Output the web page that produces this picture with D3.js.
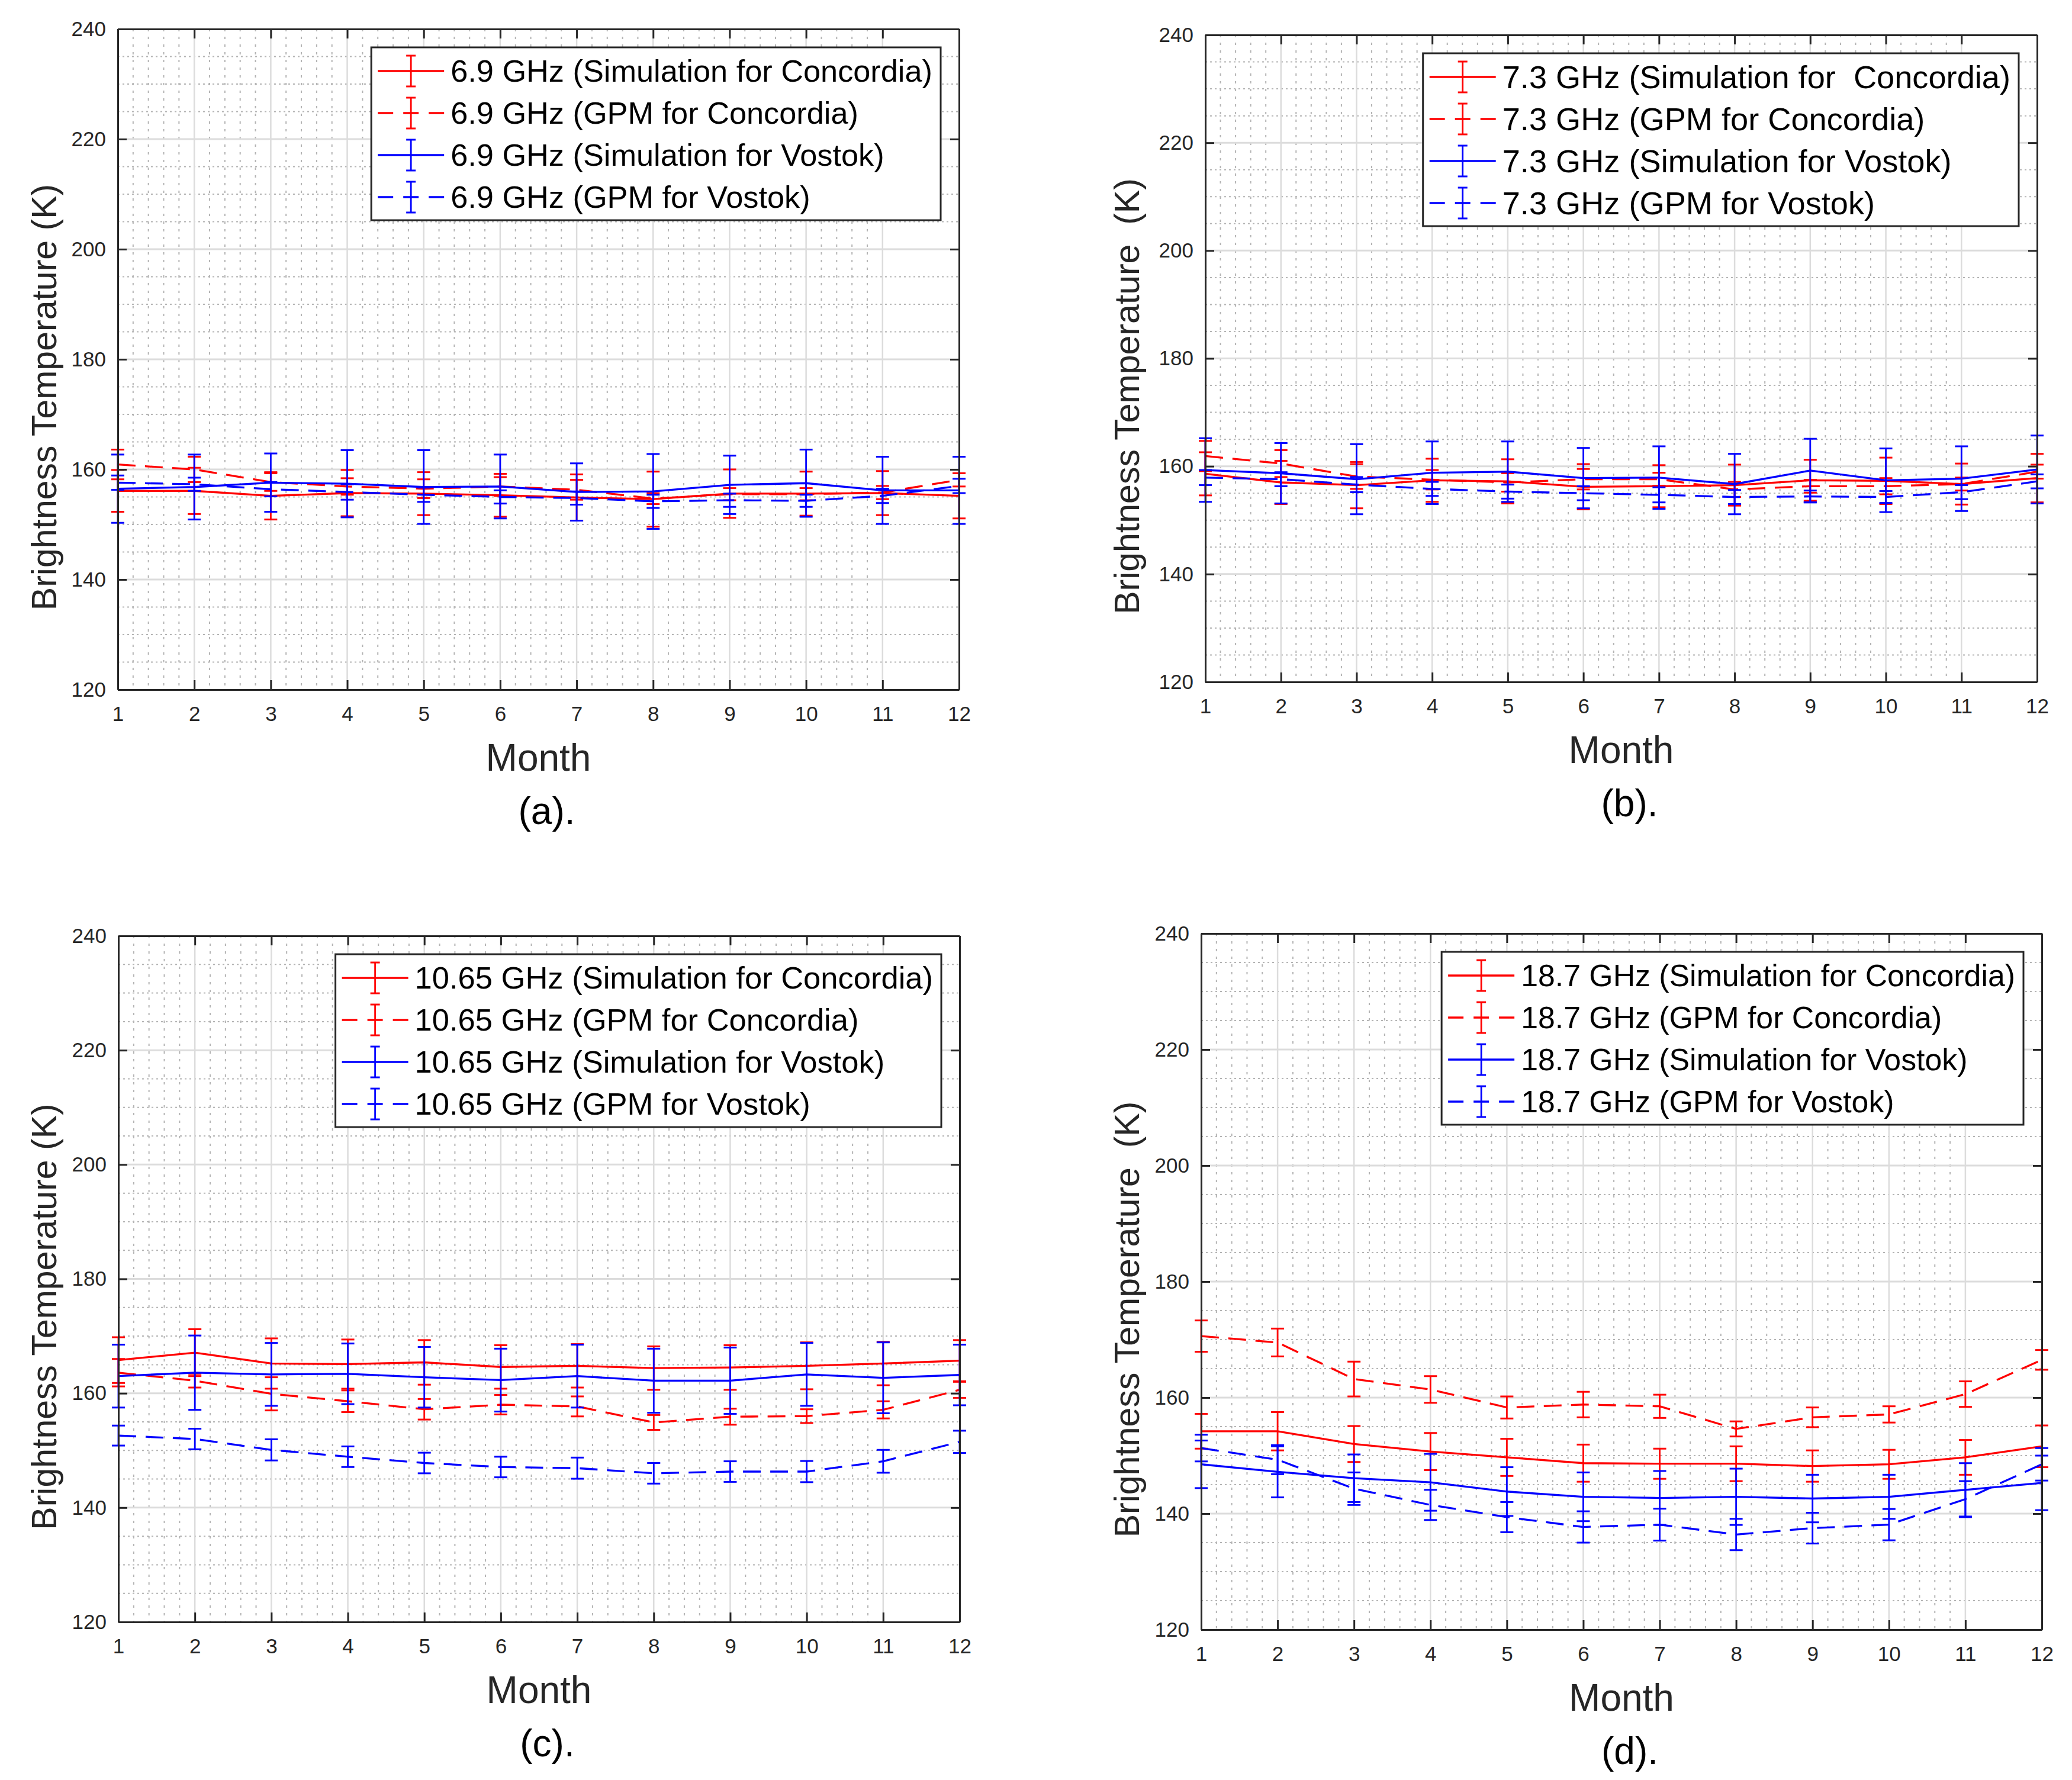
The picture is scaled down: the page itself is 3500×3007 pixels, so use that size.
<!DOCTYPE html>
<html>
<head>
<meta charset="utf-8">
<script src="https://cdn.jsdelivr.net/npm/d3@7"></script>
<style>
  body { margin: 0; background: #fff; }
  svg { display: block; }
  text { font-family: Arial, "Liberation Sans", sans-serif; }
</style>
</head>
<body>
<svg id="fig" width="3500" height="3007"></svg>
<script>
var months = [1, 2, 3, 4, 5, 6, 7, 8, 9, 10, 11, 12];
var tempTicks = [120, 140, 160, 180, 200, 220, 240];

// (a) 6.9 GHz
var sim69Con = [156.1, 156.1, 155.2, 155.7, 155.6, 155.3, 154.9, 154.6, 155.6, 155.6, 155.7, 155.2];
var sim69ConErr = [3.8, 4.2, 4.3, 4.2, 3.9, 3.9, 4.2, 5.0, 4.4, 4.0, 4.0, 4.1];
var gpm69Con = [160.9, 160.0, 157.7, 156.9, 156.5, 156.9, 156.3, 154.7, 155.5, 155.5, 155.8, 158.1];
var gpm69ConErr = [2.7, 2.3, 1.6, 1.5, 1.7, 1.7, 1.8, 1.0, 1.1, 1.1, 1.2, 1.2];
var sim69Vos = [156.5, 156.8, 157.6, 157.4, 156.8, 156.9, 155.9, 156.0, 157.2, 157.5, 156.2, 156.2];
var sim69VosErr = [6.2, 5.9, 5.3, 6.1, 6.7, 5.8, 5.2, 6.8, 5.3, 6.1, 6.1, 6.1];
var gpm69Vos = [157.6, 157.3, 156.4, 155.9, 155.4, 155.0, 154.8, 154.2, 154.4, 154.3, 155.2, 157.0];
var gpm69VosErr = [1.3, 1.2, 1.3, 1.4, 1.3, 1.2, 1.2, 1.2, 1.2, 1.1, 1.3, 1.3];
var legend69 = ["6.9 GHz (Simulation for Concordia)", "6.9 GHz (GPM for Concordia)",
                "6.9 GHz (Simulation for Vostok)", "6.9 GHz (GPM for Vostok)"];

// (b) 7.3 GHz
var sim73Con = [158.6, 157.0, 156.5, 157.4, 157.2, 156.2, 156.3, 156.5, 157.4, 157.3, 156.7, 157.8];
var sim73ConErr = [4.0, 4.0, 4.3, 4.0, 4.1, 4.2, 3.9, 3.8, 3.8, 4.3, 3.8, 4.5];
var gpm73Con = [161.9, 160.5, 158.1, 157.5, 157.0, 157.6, 157.6, 155.7, 156.3, 156.3, 156.7, 159.0];
var gpm73ConErr = [2.8, 2.5, 2.3, 1.8, 1.7, 1.9, 1.2, 1.4, 1.2, 1.5, 1.2, 1.3];
var sim73Vos = [159.3, 158.7, 157.6, 158.8, 159.0, 157.8, 157.9, 156.7, 159.2, 157.4, 157.7, 159.4];
var sim73VosErr = [5.9, 5.6, 6.5, 5.8, 5.6, 5.6, 5.8, 5.6, 5.9, 5.9, 6.0, 6.3];
var gpm73Vos = [157.9, 157.6, 156.6, 155.8, 155.3, 155.0, 154.7, 154.3, 154.4, 154.3, 155.2, 157.2];
var gpm73VosErr = [1.4, 1.3, 1.4, 1.3, 1.3, 1.3, 1.4, 1.3, 1.1, 1.1, 1.3, 1.3];
var legend73 = ["7.3 GHz (Simulation for  Concordia)", "7.3 GHz (GPM for Concordia)",
                "7.3 GHz (Simulation for Vostok)", "7.3 GHz (GPM for Vostok)"];

// (c) 10.65 GHz
var sim1065Con = [165.8, 167.1, 165.2, 165.1, 165.4, 164.6, 164.8, 164.4, 164.5, 164.8, 165.2, 165.7];
var sim1065ConErr = [4.0, 4.1, 4.4, 4.3, 3.9, 3.8, 3.8, 3.8, 3.9, 4.1, 3.8, 3.6];
var gpm1065Con = [163.6, 162.2, 159.9, 158.6, 157.2, 158.0, 157.7, 154.9, 155.9, 156.0, 157.1, 160.6];
var gpm1065ConErr = [2.4, 1.2, 2.9, 1.9, 1.8, 1.7, 1.75, 1.3, 1.4, 1.2, 1.5, 1.4];
var sim1065Vos = [163.0, 163.6, 163.3, 163.4, 162.8, 162.3, 163.0, 162.2, 162.2, 163.3, 162.7, 163.2];
var sim1065VosErr = [5.5, 6.5, 5.5, 5.3, 5.3, 5.5, 5.5, 5.6, 5.8, 5.5, 6.2, 5.3];
var gpm1065Vos = [152.6, 152.0, 150.1, 148.9, 147.8, 147.1, 146.9, 146.0, 146.3, 146.3, 148.1, 151.5];
var gpm1065VosErr = [1.75, 1.8, 1.85, 1.8, 1.8, 1.8, 1.85, 1.8, 1.8, 1.85, 2.0, 1.95];
var legend1065 = ["10.65 GHz (Simulation for Concordia)", "10.65 GHz (GPM for Concordia)",
                  "10.65 GHz (Simulation for Vostok)", "10.65 GHz (GPM for Vostok)"];

// (d) 18.7 GHz
var sim187Con = [154.2, 154.2, 152.0, 150.7, 149.7, 148.7, 148.6, 148.6, 148.2, 148.5, 149.7, 151.6];
var sim187ConErr = [3.0, 3.3, 3.1, 3.2, 3.2, 3.2, 2.6, 3.0, 2.7, 2.5, 3.0, 3.6];
var gpm187Con = [170.6, 169.5, 163.2, 161.4, 158.3, 158.8, 158.5, 154.6, 156.6, 157.1, 160.6, 166.5];
var gpm187ConErr = [2.7, 2.4, 3.0, 2.3, 1.9, 2.2, 2.0, 1.3, 1.7, 1.4, 2.2, 1.7];
var sim187Vos = [148.5, 147.2, 146.1, 145.4, 143.8, 142.9, 142.7, 142.9, 142.6, 142.9, 144.1, 145.3];
var sim187VosErr = [4.1, 4.4, 4.1, 4.9, 4.2, 4.2, 4.65, 4.85, 4.1, 3.8, 4.6, 4.7];
var gpm187Vos = [151.3, 149.3, 144.3, 141.5, 139.4, 137.7, 138.1, 136.4, 137.5, 138.1, 142.5, 148.5];
var gpm187VosErr = [2.3, 2.5, 2.8, 2.6, 2.6, 2.7, 2.75, 2.7, 2.65, 2.7, 3.1, 2.8];
var legend187 = ["18.7 GHz (Simulation for Concordia)", "18.7 GHz (GPM for Concordia)",
                 "18.7 GHz (Simulation for Vostok)", "18.7 GHz (GPM for Vostok)"];

var seriesStyle = [
    {color: "#ff0000", dash: null},
    {color: "#ff0000", dash: "30,16"},
    {color: "#0000ff", dash: null},
    {color: "#0000ff", dash: "30,16"}
];

var panels = [
    {left: 199, right: 1620, top: 49, bottom: 1165, ylabX: 74, legFont: 52.3,
     ylabel: "Brightness Temperature (K)", caption: "(a).", legend: legend69,
     values: [sim69Con, gpm69Con, sim69Vos, gpm69Vos],
     errors: [sim69ConErr, gpm69ConErr, sim69VosErr, gpm69VosErr]},
    {left: 2036, right: 3441, top: 59, bottom: 1152, ylabX: 1903, legFont: 54.2,
     ylabel: "Brightness Temperature  (K)", caption: "(b).", legend: legend73,
     values: [sim73Con, gpm73Con, sim73Vos, gpm73Vos],
     errors: [sim73ConErr, gpm73ConErr, sim73VosErr, gpm73VosErr]},
    {left: 200, right: 1621, top: 1581, bottom: 2740, ylabX: 74, legFont: 52.5,
     ylabel: "Brightness Temperature (K)", caption: "(c).", legend: legend1065,
     values: [sim1065Con, gpm1065Con, sim1065Vos, gpm1065Vos],
     errors: [sim1065ConErr, gpm1065ConErr, sim1065VosErr, gpm1065VosErr]},
    {left: 2029, right: 3449, top: 1577, bottom: 2753, ylabX: 1903, legFont: 51.8,
     ylabel: "Brightness Temperature  (K)", caption: "(d).", legend: legend187,
     values: [sim187Con, gpm187Con, sim187Vos, gpm187Vos],
     errors: [sim187ConErr, gpm187ConErr, sim187VosErr, gpm187VosErr]}
];

var svg = d3.select("#fig");
var axisColor = "#262626";

function drawPanel(p) {
    var x = d3.scaleLinear().domain([1, 12]).range([p.left, p.right]);
    var y = d3.scaleLinear().domain([120, 240]).range([p.bottom, p.top]);
    var g = svg.append("g");

    // minor grid
    var minorY = d3.range(121, 240).filter(function(v){ return v % 5 === 0 && v % 20 !== 0; });
    var minorX = d3.range(6, 56).filter(function(i){ return i % 5 !== 0; }).map(function(i){ return i / 5; });
    g.selectAll(".minY").data(minorY).enter().append("line")
        .attr("x1", p.left).attr("x2", p.right)
        .attr("y1", function(d){ return y(d); }).attr("y2", function(d){ return y(d); })
        .attr("stroke", "#b4b4b4").attr("stroke-width", 2).attr("stroke-dasharray", "3,5");
    g.selectAll(".minX").data(minorX).enter().append("line")
        .attr("x1", function(d){ return x(d); }).attr("x2", function(d){ return x(d); })
        .attr("y1", p.top).attr("y2", p.bottom)
        .attr("stroke", "#b4b4b4").attr("stroke-width", 2).attr("stroke-dasharray", "4,9");

    // major grid
    g.selectAll(".majY").data(tempTicks.slice(1, -1)).enter().append("line")
        .attr("x1", p.left).attr("x2", p.right)
        .attr("y1", function(d){ return y(d); }).attr("y2", function(d){ return y(d); })
        .attr("stroke", "#dcdcdc").attr("stroke-width", 3);
    g.selectAll(".majX").data(months.slice(1, -1)).enter().append("line")
        .attr("x1", function(d){ return x(d); }).attr("x2", function(d){ return x(d); })
        .attr("y1", p.top).attr("y2", p.bottom)
        .attr("stroke", "#dcdcdc").attr("stroke-width", 2.5);

    // data with error bars
    p.values.forEach(function(vals, k) {
        var st = seriesStyle[k];
        var pts = months.map(function(m, i){ return {m: m, v: vals[i], e: p.errors[k][i]}; });
        var sg = g.append("g").attr("stroke", st.color).attr("fill", "none");
        sg.append("path").datum(pts)
            .attr("d", d3.line().x(function(d){ return x(d.m); }).y(function(d){ return y(d.v); }))
            .attr("stroke-width", 3.3)
            .attr("stroke-dasharray", st.dash);
        var eb = sg.selectAll(".eb").data(pts).enter().append("g");
        eb.append("line")
            .attr("x1", function(d){ return x(d.m); }).attr("x2", function(d){ return x(d.m); })
            .attr("y1", function(d){ return y(d.v + d.e); }).attr("y2", function(d){ return y(d.v - d.e); })
            .attr("stroke-width", 2.8);
        [1, -1].forEach(function(sgn) {
            eb.append("line")
                .attr("x1", function(d){ return x(d.m) - 11; }).attr("x2", function(d){ return x(d.m) + 11; })
                .attr("y1", function(d){ return y(d.v + sgn * d.e); }).attr("y2", function(d){ return y(d.v + sgn * d.e); })
                .attr("stroke-width", 3);
        });
    });

    // axes (box with inward ticks)
    function styleAxis(a) {
        a.attr("font-size", 35).attr("font-family", "Arial, 'Liberation Sans', sans-serif");
        a.select(".domain").attr("stroke", axisColor).attr("stroke-width", 3);
        a.selectAll(".tick line").attr("stroke", axisColor).attr("stroke-width", 3);
        a.selectAll(".tick text").attr("fill", axisColor);
    }
    g.append("g").attr("transform", "translate(0," + p.bottom + ")")
        .call(d3.axisBottom(x).tickValues(months).tickSizeInner(-16).tickSizeOuter(0).tickPadding(28))
        .call(styleAxis);
    g.append("g").attr("transform", "translate(0," + p.top + ")")
        .call(d3.axisTop(x).tickValues(months).tickSizeInner(-16).tickSizeOuter(0).tickFormat(""))
        .call(styleAxis);
    g.append("g").attr("transform", "translate(" + p.left + ",0)")
        .call(d3.axisLeft(y).tickValues(tempTicks).tickSizeInner(-15).tickSizeOuter(0).tickPadding(20))
        .call(styleAxis);
    g.append("g").attr("transform", "translate(" + p.right + ",0)")
        .call(d3.axisRight(y).tickValues(tempTicks).tickSizeInner(-15).tickSizeOuter(0).tickFormat(""))
        .call(styleAxis);

    // labels
    var cx = (p.left + p.right) / 2;
    g.append("text")
        .attr("x", cx).attr("y", p.bottom + 115).attr("dy", "0.35em")
        .attr("text-anchor", "middle").attr("font-size", 64).attr("fill", axisColor)
        .text("Month");
    g.append("text")
        .attr("x", cx + 14).attr("y", p.bottom + 205).attr("dy", "0.35em")
        .attr("text-anchor", "middle").attr("font-size", 64).attr("fill", "#000")
        .text(p.caption);
    g.append("text")
        .attr("transform", "translate(" + p.ylabX + "," + ((p.top + p.bottom) / 2 + 64) + ") rotate(-90)")
        .attr("dy", "0.35em")
        .attr("text-anchor", "middle").attr("font-size", 59).attr("fill", axisColor)
        .style("white-space", "pre")
        .text(p.ylabel);

    // legend
    var lg = g.append("g");
    var box = lg.append("rect").attr("fill", "#fff").attr("stroke", axisColor).attr("stroke-width", 3);
    var legTop = p.top + 31, step = 71;
    var texts = p.legend.map(function(lbl, i) {
        return lg.append("text").attr("y", legTop + 40 + i * step).attr("dy", "0.35em")
            .attr("font-size", p.legFont).attr("fill", "#000").style("white-space", "pre").text(lbl);
    });
    var maxLen = d3.max(texts, function(t){ return t.node().getComputedTextLength(); });
    var boxW = 134 + maxLen + 14;
    var legLeft = p.right - 31 - boxW;
    box.attr("x", legLeft).attr("y", legTop).attr("width", boxW).attr("height", 4 * step + 8);
    texts.forEach(function(t){ t.attr("x", legLeft + 134); });
    seriesStyle.forEach(function(st, i) {
        var cy = legTop + 40 + i * step;
        var eg = lg.append("g").attr("stroke", st.color);
        eg.append("line").attr("x1", legLeft + 11).attr("x2", legLeft + 123)
            .attr("y1", cy).attr("y2", cy).attr("stroke-width", 3.5)
            .attr("stroke-dasharray", st.dash ? "26,17" : null);
        var ex = legLeft + 67;
        eg.append("line").attr("x1", ex).attr("x2", ex).attr("y1", cy - 26).attr("y2", cy + 26).attr("stroke-width", 2.8);
        eg.append("line").attr("x1", ex - 8).attr("x2", ex + 8).attr("y1", cy - 26).attr("y2", cy - 26).attr("stroke-width", 3);
        eg.append("line").attr("x1", ex - 8).attr("x2", ex + 8).attr("y1", cy + 26).attr("y2", cy + 26).attr("stroke-width", 3);
    });
}

panels.forEach(drawPanel);
</script>
</body>
</html>
